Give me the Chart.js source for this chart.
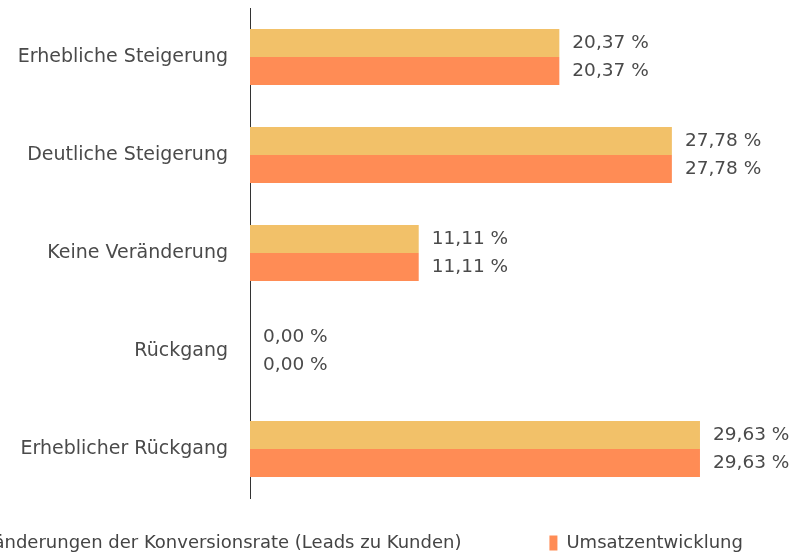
<!DOCTYPE html>
<html>
<head>
<meta charset="utf-8">
<script src="https://cdn.jsdelivr.net/npm/chart.js@4/dist/chart.umd.min.js"></script>
<style>
  html, body { margin: 0; padding: 0; overflow: hidden; background: #fff; }
  #wrap { position: absolute; left: -155px; top: 0; width: 1000px; height: 555px; }
</style>
</head>
<body>
<div id="wrap"><canvas id="myBarChart"></canvas></div>
<script>
/* Data */
const categories = ['Erhebliche Steigerung', 'Deutliche Steigerung', 'Keine Veränderung', 'Rückgang', 'Erheblicher Rückgang'];
const conversionValues = [20.37, 27.78, 11.11, 0.00, 29.63];
const revenueValues = [20.37, 27.78, 11.11, 0.00, 29.63];
const seriesNames = ['Veränderungen der Konversionsrate (Leads zu Kunden)', 'Umsatzentwicklung'];

const FONT = "'DejaVu Sans', sans-serif";

/* Value labels at the end of each bar */
const valueLabels = {
  id: 'valueLabels',
  afterDatasetsDraw(chart) {
    const ctx = chart.ctx;
    ctx.save();
    ctx.font = '18.5px ' + FONT;
    ctx.fillStyle = '#4a4a4a';
    ctx.textBaseline = 'middle';
    ctx.textAlign = 'left';
    chart.data.datasets.forEach(function(ds, i) {
      chart.getDatasetMeta(i).data.forEach(function(bar, j) {
        const txt = ds.data[j].toFixed(2).replace('.', ',') + ' %';
        ctx.fillText(txt, bar.x + 13, bar.y);
      });
    });
    ctx.restore();
  }
};

/* Wide gap between legend items, but keep the legend strip short */
const legendSpacing = {
  id: 'legendSpacing',
  afterInit(chart) {
    const lg = chart.legend;
    const fit = lg.fit, draw = lg.draw;
    lg.fit = function() { fit.call(this); this.height = 57; };
    lg.draw = function() {
      const t = this.top;
      this.top = t - 52;
      draw.call(this);
      this.top = t;
    };
  }
};

const config = {
  type: 'bar',
  data: {
    labels: categories,
    datasets: [{
      label: seriesNames[0],
      data: conversionValues,
      backgroundColor: '#f2c169',
      categoryPercentage: 0.571,
      barPercentage: 1.0
    }, {
      label: seriesNames[1],
      data: revenueValues,
      backgroundColor: '#ff8c55',
      categoryPercentage: 0.571,
      barPercentage: 1.0
    }]
  },
  options: {
    indexAxis: 'y',
    responsive: true,
    maintainAspectRatio: false,
    animation: false,
    layout: {autoPadding: false, padding: 0},
    plugins: {
      legend: {
        position: 'bottom',
        labels: {
          font: {family: FONT, size: 18},
          color: '#444',
          boxWidth: 8,
          boxHeight: 15,
          padding: 88
        }
      },
      tooltip: {enabled: false}
    },
    scales: {
      x: {
        display: false,
        min: 0,
        max: 39.18
      },
      y: {
        grid: {display: false},
        border: {display: true, color: '#333', width: 1},
        ticks: {
          font: {family: FONT, size: 19},
          color: '#4a4a4a',
          padding: 14
        },
        afterFit: function(scale) {
          scale.width = 405;
          scale.paddingTop = 8;
          scale.paddingBottom = 0;
        }
      }
    }
  },
  plugins: [valueLabels, legendSpacing]
};

/* Render chart */
var myBarChart = new Chart(document.getElementById('myBarChart'), config);
</script>
</body>
</html>
